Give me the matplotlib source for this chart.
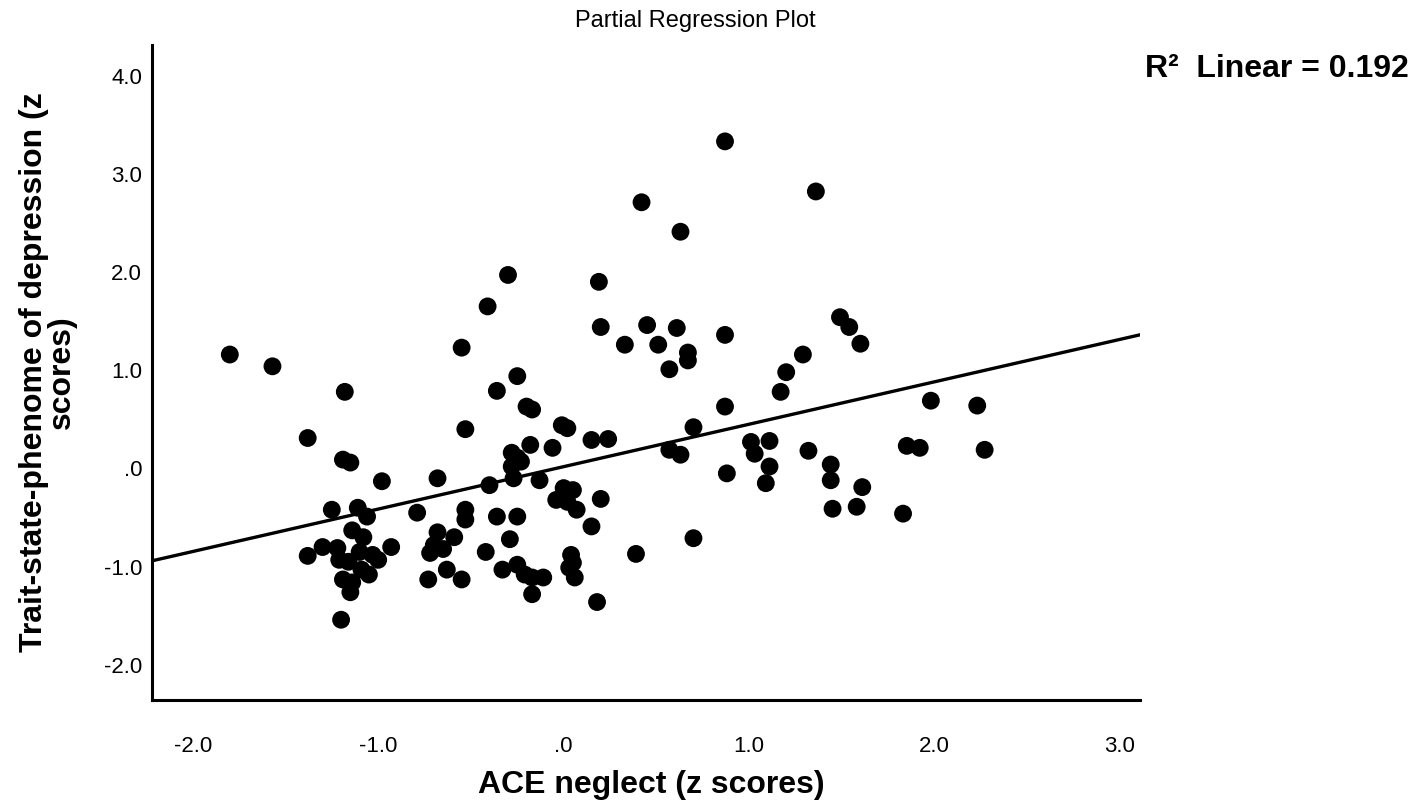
import numpy as np
import matplotlib
matplotlib.use("Agg")
import matplotlib.pyplot as plt

# values (z scores)
ace_neglect = [
    -1.80, -1.57, -1.18, -1.38, -1.19, -1.15, -0.98, -1.25, -1.11, -1.06,
    -1.14, -1.08, -1.30, -1.22, -1.38, -1.21, -1.16, -1.10, -1.03, -1.00,
    -0.93, -1.09, -1.05, -1.19, -1.14, -1.15, -1.20,
    -0.30, -0.41, 0.19, -0.55, 0.20, 0.33, -0.25, -0.36, -0.20, -0.17,
    -0.53, -0.01, 0.02, 0.15, 0.24, -0.18, -0.06, -0.28, -0.25, -0.23,
    -0.28, -0.68, -0.40, -0.27, -0.13, -0.79, -0.53, -0.53, -0.36, -0.25,
    0.00, 0.05, -0.04, 0.02, 0.07, 0.20, 0.15, -0.42, -0.29, -0.33,
    -0.25, -0.21, -0.17, -0.11, -0.17, -0.73, -0.55, 0.04, 0.05, 0.03,
    0.06, 0.39, 0.18, -0.68, -0.70, -0.65, -0.72, -0.59, -0.63,
    0.87, 1.36, 0.42, 0.63, 0.45, 0.61, 0.51, 0.67, 0.67, 0.57,
    0.87, 1.49, 1.54, 1.60, 1.29, 1.20, 1.17, 0.87,
    0.70, 0.57, 0.63, 0.88, 1.01, 1.11, 1.03, 1.11, 1.09, 1.32,
    1.44, 1.44, 1.45, 1.58, 1.61, 0.70,
    1.98, 2.23, 1.85, 1.92, 2.27, 1.83,
]
depression = [
    1.16, 1.04, 0.78, 0.31, 0.09, 0.06, -0.13, -0.42, -0.40, -0.49,
    -0.63, -0.70, -0.80, -0.81, -0.89, -0.93, -0.95, -0.85, -0.88, -0.93,
    -0.80, -1.03, -1.08, -1.13, -1.16, -1.26, -1.54,
    1.97, 1.65, 1.90, 1.23, 1.44, 1.26, 0.94, 0.79, 0.63, 0.60,
    0.40, 0.44, 0.41, 0.29, 0.30, 0.24, 0.21, 0.16, 0.11, 0.07,
    0.02, -0.10, -0.17, -0.10, -0.12, -0.45, -0.42, -0.52, -0.49, -0.49,
    -0.20, -0.22, -0.32, -0.34, -0.42, -0.31, -0.59, -0.85, -0.72, -1.03,
    -0.98, -1.08, -1.11, -1.11, -1.28, -1.13, -1.13, -0.88, -0.96, -1.01,
    -1.11, -0.87, -1.36, -0.65, -0.78, -0.82, -0.86, -0.70, -1.03,
    3.33, 2.82, 2.71, 2.41, 1.46, 1.43, 1.26, 1.18, 1.10, 1.01,
    1.36, 1.54, 1.44, 1.27, 1.16, 0.98, 0.78, 0.63,
    0.42, 0.19, 0.14, -0.05, 0.27, 0.28, 0.15, 0.02, -0.15, 0.18,
    0.04, -0.12, -0.41, -0.39, -0.19, -0.71,
    0.69, 0.64, 0.23, 0.21, 0.19, -0.46,
]
xticks = [-2.0, -1.0, 0.0, 1.0, 2.0, 3.0]
xtick_labels = ["-2.0", "-1.0", ".0", "1.0", "2.0", "3.0"]
yticks = [-2.0, -1.0, 0.0, 1.0, 2.0, 3.0, 4.0]
ytick_labels = ["-2.0", "-1.0", ".0", "1.0", "2.0", "3.0", "4.0"]
r2_text = "R²  Linear = 0.192"

plt.rcParams['font.family'] = ['Liberation Sans', 'DejaVu Sans']

x = np.array(ace_neglect)
y = np.array(depression)

fig = plt.figure(figsize=(14.18, 8.09), dpi=100)
ax = fig.add_axes([0.107, 0.135, 0.697, 0.809])

ax.scatter(x, y, s=165, color='black', edgecolors='none', zorder=3)

# fit line through the data
slope, intercept = np.polyfit(x, y, 1)
xl = np.array([-2.221, 3.108])
ax.plot(xl, slope*xl + intercept, color='black', lw=2.4, zorder=2)

ax.set_xlim(-2.221, 3.108)
ax.set_ylim(-2.355, 4.308)
ax.set_xticks(xticks, xtick_labels)
ax.set_yticks(yticks, ytick_labels)
ax.tick_params(axis='both', length=0, labelsize=16)
ax.tick_params(axis='x', pad=26)
ax.tick_params(axis='y', pad=7)

for side in ['top', 'right']:
    ax.spines[side].set_visible(False)
for side in ['left', 'bottom']:
    ax.spines[side].set_linewidth(2.2)

ax.set_xlabel("ACE neglect (z scores)", fontweight='bold', va='center', fontsize=23)
ax.xaxis.set_label_coords(0.505, -0.13)
ax.set_ylabel("Trait-state-phenome of depression (z\nscores)", fontweight='bold',
              linespacing=0.9, va='center', ha='center', fontsize=23)
ax.yaxis.set_label_coords(-0.105, 0.5)

fig.text(0.49, 1 - 21/809, "Partial Regression Plot", ha='center', va='center', fontsize=17)
fig.text(1145/1418, 1 - 69/809, r2_text, ha='left', va='center', fontsize=23, fontweight='bold')

fig.savefig("out.png", dpi=100)
